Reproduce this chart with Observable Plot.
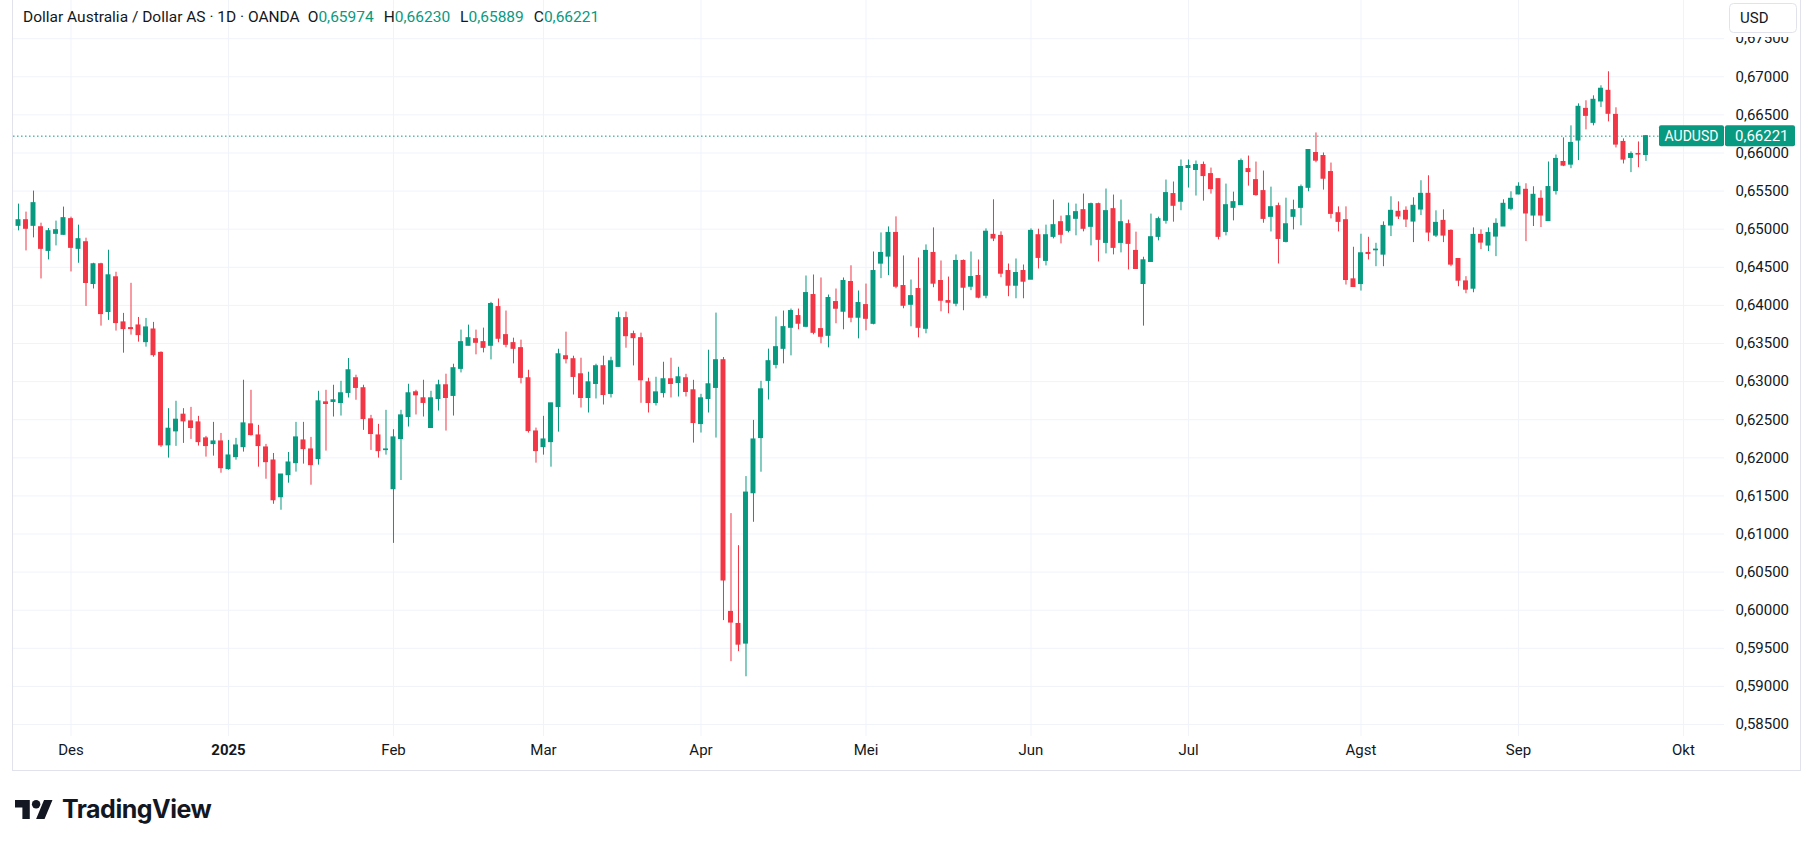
<!DOCTYPE html>
<html><head><meta charset="utf-8">
<script src="https://cdn.jsdelivr.net/npm/d3@7"></script>
<script src="https://cdn.jsdelivr.net/npm/@observablehq/plot@0.6"></script>
<style>
body{margin:0;background:#fff;font-family:Roboto,"Noto Sans",sans-serif;}
#wrap{position:relative;width:1813px;height:845px;overflow:hidden;background:#fff;}
#chart{position:absolute;left:0;top:0;}
#border{position:absolute;left:12px;top:-1px;width:1789px;height:772px;border:1px solid #e0e3eb;box-sizing:border-box;pointer-events:none;}
#header{position:absolute;left:23px;top:8px;font-size:15.5px;color:#131722;white-space:pre;}
#header .g{margin-left:10px}
#header .g0{margin-left:8px}
#header .v{color:#089981}
#logo{position:absolute;left:15px;top:794px;display:flex;align-items:center;gap:9px;color:#131722;}
#logo span{font-family:Inter,Roboto,sans-serif;font-weight:700;font-size:25px;letter-spacing:-0.5px;}
</style>
</head><body>
<div id="wrap">
  <div id="chart"></div>
  <div id="border"></div>
  <div id="header">Dollar Australia / Dollar AS · 1D · OANDA<span class="g0">O<span class="v">0,65974</span></span><span class="g">H<span class="v">0,66230</span></span><span class="g">L<span class="v">0,65889</span></span><span class="g">C<span class="v">0,66221</span></span></div>
  <div id="logo"><svg width="38" height="19" viewBox="0 4 36 18"><path d="M14 22H7V11H0V4h14v18zM28 22h-8l7.5-18h8L28 22z" fill="#131722"/><circle cx="20" cy="8" r="4" fill="#131722"/></svg><span>TradingView</span></div>
</div>
<script>
// Daily AUD/USD candles, 21 Nov 2024 .. 24 Sep 2025 (bar index 0..217)
const opens = [0.65044,0.65118,0.65044,0.65026,0.64715,0.64939,0.64926,0.65132,0.64742,0.64829,
0.64281,0.64540,0.63913,0.64369,0.63777,0.63702,0.63737,0.63518,0.63684,0.63377,
0.62163,0.62347,0.62566,0.62478,0.62465,0.62255,0.62180,0.62215,0.61851,0.62009,
0.62140,0.62439,0.62294,0.62136,0.61965,0.61483,0.61772,0.61930,0.62228,0.62110,
0.61983,0.62728,0.62733,0.62719,0.62851,0.63044,0.62913,0.62505,0.62294,0.62101,
0.61588,0.62246,0.62535,0.62860,0.62781,0.62391,0.62772,0.62952,0.62812,0.63167,
0.63470,0.63557,0.63518,0.63470,0.63978,0.63610,0.63505,0.63439,0.63044,0.62346,
0.62140,0.62206,0.62667,0.63333,0.63294,0.63096,0.62785,0.62969,0.63202,0.62838,
0.63193,0.63833,0.63623,0.63570,0.62991,0.62719,0.62851,0.63031,0.62982,0.63044,
0.62886,0.62443,0.62772,0.62917,0.63281,0.59978,0.59820,0.59562,0.61535,0.62259,
0.63009,0.63219,0.63430,0.63706,0.63860,0.63719,0.64136,0.63689,0.63601,0.64044,
0.63917,0.64307,0.63838,0.64004,0.63758,0.64548,0.64640,0.64951,0.64254,0.64008,
0.64215,0.63693,0.64688,0.64320,0.64057,0.64022,0.64583,0.64245,0.64386,0.64127,
0.64925,0.64912,0.64451,0.64258,0.64451,0.64337,0.64921,0.64584,0.64899,0.65092,
0.64978,0.65136,0.65250,0.65031,0.65329,0.64820,0.65263,0.64820,0.65066,0.64715,
0.64281,0.64570,0.64899,0.65110,0.65461,0.65360,0.65803,0.65777,0.65842,0.65723,
0.65657,0.64964,0.65280,0.65315,0.65789,0.65644,0.65500,0.65162,0.65302,0.64833,
0.65162,0.65280,0.65543,0.66000,0.65960,0.65750,0.65210,0.65118,0.64342,0.64280,
0.64688,0.64723,0.64666,0.65048,0.65228,0.65241,0.65100,0.65258,0.65464,0.64916,
0.65109,0.64978,0.64609,0.64315,0.64219,0.64925,0.64785,0.64903,0.65035,0.65267,
0.65456,0.65517,0.65179,0.65399,0.65106,0.65500,0.65882,0.65847,0.66163,0.66579,
0.66395,0.66676,0.66816,0.66500,0.66145,0.65935,0.65987,0.65974];
const highs = [0.65329,0.65224,0.65500,0.65079,0.65009,0.65106,0.65290,0.65158,0.65053,0.64882,
0.64553,0.64553,0.64724,0.64435,0.63895,0.64290,0.63842,0.63829,0.63777,0.63390,
0.62645,0.62742,0.62645,0.62662,0.62544,0.62281,0.62465,0.62320,0.62228,0.62255,
0.63018,0.62886,0.62426,0.62176,0.62057,0.61781,0.62070,0.62465,0.62465,0.62268,
0.62873,0.62886,0.62952,0.63004,0.63303,0.63084,0.62952,0.62557,0.62439,0.62623,
0.62369,0.62623,0.62965,0.62886,0.63018,0.62873,0.63018,0.63097,0.63228,0.63676,
0.63741,0.63676,0.63702,0.64040,0.64084,0.63926,0.63570,0.63544,0.63149,0.62390,
0.62544,0.62715,0.63425,0.63649,0.63333,0.63307,0.63123,0.63228,0.63333,0.63320,
0.63912,0.63912,0.63662,0.63636,0.63044,0.63057,0.63254,0.63307,0.63188,0.63096,
0.63017,0.62833,0.63412,0.63899,0.63316,0.61268,0.60847,0.61754,0.62491,0.63004,
0.63426,0.63849,0.63926,0.63952,0.63952,0.64386,0.64399,0.64360,0.64136,0.64215,
0.64360,0.64520,0.64189,0.64280,0.64701,0.64951,0.65030,0.65162,0.64649,0.64333,
0.64622,0.64794,0.65017,0.64583,0.64372,0.64662,0.64596,0.64701,0.64596,0.65004,
0.65386,0.64965,0.64543,0.64609,0.64530,0.65004,0.65000,0.65053,0.65382,0.65171,
0.65342,0.65329,0.65461,0.65342,0.65342,0.65527,0.65448,0.65382,0.65119,0.64961,
0.64632,0.65198,0.65158,0.65645,0.65619,0.65908,0.65908,0.65895,0.65881,0.65802,
0.65657,0.65592,0.65486,0.65921,0.65960,0.65881,0.65763,0.65552,0.65342,0.65407,
0.65381,0.65579,0.66045,0.66263,0.66000,0.65868,0.65293,0.65293,0.64763,0.64934,
0.64894,0.64815,0.65096,0.65425,0.65359,0.65293,0.65412,0.65636,0.65701,0.65241,
0.65254,0.64991,0.64614,0.64377,0.65017,0.64991,0.65017,0.65136,0.65386,0.65491,
0.65609,0.65596,0.65557,0.65504,0.65882,0.65974,0.66198,0.66356,0.66645,0.66685,
0.66750,0.66882,0.67066,0.66593,0.66185,0.66014,0.66145,0.66230];
const lows = [0.64978,0.64715,0.64886,0.64347,0.64597,0.64781,0.64920,0.64439,0.64553,0.63987,
0.64215,0.63728,0.63803,0.63663,0.63373,0.63610,0.63518,0.63452,0.63320,0.62136,
0.61996,0.62150,0.62189,0.62241,0.62154,0.62009,0.62022,0.61798,0.61838,0.61969,
0.62075,0.62285,0.61877,0.61719,0.61390,0.61312,0.61667,0.61812,0.61917,0.61640,
0.61904,0.62088,0.62535,0.62548,0.62785,0.62755,0.62360,0.62097,0.61996,0.62035,
0.60877,0.61702,0.62404,0.62562,0.62535,0.62391,0.62614,0.62351,0.62548,0.63114,
0.63470,0.63351,0.63377,0.63285,0.63509,0.63443,0.63233,0.62970,0.62324,0.61930,
0.62035,0.61877,0.62337,0.63232,0.62824,0.62653,0.62588,0.62772,0.62693,0.62785,
0.63193,0.63438,0.63206,0.62715,0.62588,0.62680,0.62785,0.62785,0.62798,0.62798,
0.62193,0.62325,0.62588,0.62259,0.59864,0.59325,0.59456,0.59127,0.61154,0.61811,
0.62759,0.63167,0.63233,0.63338,0.63680,0.63706,0.63614,0.63496,0.63443,0.63759,
0.63680,0.63772,0.63561,0.63666,0.63745,0.64351,0.64390,0.64219,0.63956,0.63719,
0.63574,0.63627,0.64232,0.63916,0.63890,0.63982,0.63930,0.64193,0.64087,0.64087,
0.64837,0.64364,0.64114,0.64087,0.64087,0.64337,0.64478,0.64518,0.64873,0.64807,
0.64952,0.64913,0.64965,0.64781,0.64570,0.64676,0.64663,0.64689,0.64465,0.64478,
0.63728,0.64570,0.64847,0.65066,0.65092,0.65242,0.65540,0.65435,0.65368,0.65460,
0.64859,0.64912,0.65109,0.65315,0.65565,0.65434,0.65078,0.64964,0.64543,0.64820,
0.64991,0.65044,0.65491,0.65872,0.65513,0.65135,0.64964,0.64267,0.64241,0.64188,
0.64596,0.64508,0.64508,0.64903,0.65127,0.65022,0.64824,0.65179,0.64837,0.64890,
0.64824,0.64508,0.64245,0.64153,0.64166,0.64732,0.64706,0.64640,0.65035,0.65241,
0.65451,0.64837,0.65035,0.65022,0.65106,0.65448,0.65821,0.65794,0.65900,0.66303,
0.66356,0.66597,0.66408,0.66066,0.65856,0.65742,0.65807,0.65889];
const closes = [0.65118,0.65005,0.65342,0.64742,0.64974,0.64987,0.65145,0.64755,0.64869,0.64294,
0.64540,0.63886,0.64395,0.63768,0.63689,0.63689,0.63610,0.63711,0.63347,0.62163,
0.62382,0.62500,0.62478,0.62391,0.62206,0.62154,0.62215,0.61864,0.62031,0.62162,
0.62452,0.62298,0.62154,0.61943,0.61443,0.61781,0.61939,0.62268,0.62114,0.61904,
0.62741,0.62706,0.62755,0.62847,0.63149,0.62917,0.62509,0.62312,0.62088,0.62110,
0.62268,0.62557,0.62847,0.62820,0.62720,0.62781,0.62952,0.62785,0.63176,0.63518,
0.63570,0.63509,0.63443,0.64018,0.63562,0.63483,0.63430,0.63049,0.62351,0.62088,
0.62241,0.62715,0.63359,0.63294,0.63061,0.62785,0.62991,0.63202,0.62824,0.63267,
0.63833,0.63596,0.63570,0.63017,0.62719,0.62859,0.63031,0.62969,0.63057,0.62864,
0.62456,0.62781,0.62965,0.63281,0.60390,0.59838,0.59548,0.61544,0.62241,0.62899,
0.63268,0.63452,0.63715,0.63926,0.63759,0.64162,0.63640,0.63588,0.64097,0.63956,
0.64320,0.63838,0.64031,0.63824,0.64451,0.64688,0.64951,0.64245,0.63995,0.64122,
0.63706,0.64715,0.64285,0.64061,0.64035,0.64583,0.64232,0.64372,0.64101,0.64967,
0.64877,0.64416,0.64258,0.64425,0.64311,0.64978,0.64623,0.64921,0.65053,0.64926,
0.65171,0.65224,0.65005,0.65329,0.64860,0.65237,0.64755,0.65092,0.64807,0.64478,
0.64592,0.64895,0.65132,0.65474,0.65307,0.65816,0.65829,0.65842,0.65697,0.65526,
0.64899,0.65315,0.65355,0.65894,0.65750,0.65447,0.65135,0.65289,0.64872,0.65065,
0.65250,0.65552,0.66039,0.65899,0.65662,0.65201,0.65096,0.64333,0.64241,0.64684,
0.64675,0.64732,0.65043,0.65241,0.65166,0.65127,0.65307,0.65464,0.64956,0.65083,
0.64916,0.64535,0.64324,0.64206,0.64925,0.64824,0.64951,0.65070,0.65333,0.65399,
0.65557,0.65206,0.65451,0.65179,0.65553,0.65922,0.65834,0.66132,0.66606,0.66487,
0.66698,0.66843,0.66514,0.66110,0.65913,0.65987,0.65979,0.66221];

const monthTicks  = [7, 28, 50, 70, 91, 113, 135, 156, 179, 200, 222];
const monthLabels = ["Des", "2025", "Feb", "Mar", "Apr", "Mei", "Jun", "Jul", "Agst", "Sep", "Okt"];
const priceTicks  = d3.range(0, 19).map(k => +(0.585 + k * 0.005).toFixed(3));
const symbol = "AUDUSD";

const UP = "#089981", DOWN = "#f23645", GRID = "#f0f3fa", TXT = "#131722";
const fmt = v => v.toFixed(5).replace(".", ",");
const idx = d3.range(opens.length);
const col = i => closes[i] >= opens[i] ? UP : DOWN;
const monthIdx = d3.range(monthTicks.length);
const last = closes.length - 1;

const plot = Plot.plot({
  width: 1813, height: 771,
  marginLeft: 13, marginRight: 89, marginTop: 0, marginBottom: 35,
  x: {domain: [-0.667, 227.47], axis: null},
  y: {domain: [0.58343, 0.68001], axis: null},
  style: {fontFamily: "Roboto, 'Noto Sans', sans-serif", background: "#fff", overflow: "visible"},
  marks: [
    Plot.ruleY(priceTicks, {y: d => d, stroke: GRID, strokeWidth: 1}),
    Plot.ruleX(monthTicks, {x: d => d, stroke: GRID, strokeWidth: 1}),
    Plot.ruleY([closes[last]], {y: d => d, stroke: UP, strokeWidth: 1, strokeDasharray: "1.5,2.5"}),
    Plot.ruleX(idx, {x: i => i, y1: i => lows[i], y2: i => highs[i], stroke: col, strokeWidth: 1}),
    Plot.rect(idx, {x1: i => i - 0.33, x2: i => i + 0.33, y1: i => opens[i], y2: i => closes[i], fill: col, insetTop: -0.5, insetBottom: -0.5}),
    Plot.text(priceTicks, {y: d => d, text: d => fmt(d), frameAnchor: "right", textAnchor: "start", dx: 11, fontSize: 15, fill: TXT}),
    Plot.text(monthIdx.filter(k => monthLabels[k] !== "2025"), {x: k => monthTicks[k], text: k => monthLabels[k], frameAnchor: "bottom", dy: 18, fontSize: 15, fill: TXT}),
    Plot.text(monthIdx.filter(k => monthLabels[k] === "2025"), {x: k => monthTicks[k], text: k => monthLabels[k], frameAnchor: "bottom", dy: 18, fontSize: 15, fontWeight: "bold", fill: TXT})
  ]
});
document.getElementById("chart").appendChild(plot);

// price label boxes placed with the plot's own y scale
const ys = plot.scale("y");
const yScale = d3.scaleLinear().domain(ys.domain).range(ys.range);
const yc = yScale(closes[last]);
const svg = d3.select(plot);
const g = svg.append("g").attr("font-family", "Roboto, 'Noto Sans', sans-serif").attr("text-anchor", "start");
g.append("rect").attr("x", 1659).attr("y", yc - 10.5).attr("width", 65).attr("height", 21).attr("rx", 2).attr("fill", UP);
g.append("text").attr("x", 1691.5).attr("y", yc).attr("dy", "0.35em").attr("text-anchor", "middle").attr("font-size", 14).attr("fill", "#fff").text(symbol);
g.append("rect").attr("x", 1725).attr("y", yc - 10.5).attr("width", 70).attr("height", 21).attr("rx", 2).attr("fill", UP);
g.append("text").attr("x", 1735).attr("y", yc).attr("dy", "0.35em").attr("text-anchor", "start").attr("font-size", 15).attr("fill", "#fff").text(fmt(closes[last]));
// currency button (its white backdrop hides the top half of the 0,67500 label, as in TradingView)
g.append("rect").attr("x", 1725).attr("y", 0).attr("width", 75).attr("height", 37).attr("fill", "#fff");
g.append("rect").attr("x", 1729.5).attr("y", 3.5).attr("width", 67).attr("height", 29).attr("rx", 4).attr("fill", "#fff").attr("stroke", "#e0e3eb");
g.append("text").attr("x", 1740).attr("y", 18).attr("dy", "0.35em").attr("text-anchor", "start").attr("font-size", 15).attr("fill", TXT).text("USD");
</script>
</body></html>
